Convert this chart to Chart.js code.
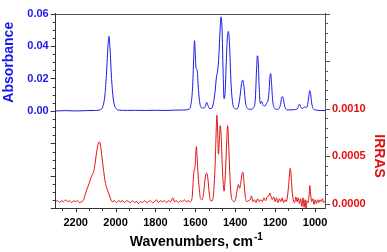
<!DOCTYPE html>
<html>
<head>
<meta charset="utf-8">
<script src="https://cdn.jsdelivr.net/npm/chart.js@4/dist/chart.umd.min.js"></script>
<style>
  html, body { margin: 0; padding: 0; background: #fff; }
</style>
</head>
<body>
<canvas id="irChart" width="387" height="252"></canvas>
<script>
// absorbance spectrum (top, left axis)
const absWavenumbers = [
  2300, 2250, 2200, 2150, 2100, 2075, 2063, 2053, 2045, 2038,
  2033, 2028, 2020, 2012, 2004, 1995, 1980, 1940, 1900, 1850,
  1800, 1750, 1700, 1660, 1632, 1622, 1614, 1608, 1604, 1600,
  1596, 1591, 1586, 1579, 1569, 1557, 1549, 1543, 1537, 1529,
  1519, 1509, 1501, 1494, 1488, 1482, 1476, 1471, 1466, 1461,
  1456, 1451, 1445, 1439, 1434, 1429, 1421, 1413, 1403, 1393,
  1384, 1376, 1368, 1362, 1356, 1348, 1338, 1322, 1308, 1299,
  1293, 1289, 1285, 1280, 1274, 1267, 1261, 1252, 1242, 1235,
  1230, 1226, 1222, 1218, 1212, 1204, 1192, 1181, 1173, 1167,
  1162, 1157, 1150, 1140, 1125, 1105, 1090, 1083, 1078, 1072,
  1065, 1058, 1053, 1047, 1039, 1032, 1027, 1023, 1017, 1009,
  997, 975, 950
];
const absValues = [
  0, 0.0002, 0, 0.0002, 0.0003, 0.0008, 0.003, 0.010, 0.024, 0.040,
  0.046, 0.039, 0.020, 0.008, 0.003, 0.0012, 0.0005, 0.0003, 0.0004, 0.0003,
  0.0004, 0.0003, 0.0005, 0.0006, 0.001, 0.004, 0.014, 0.033, 0.0433, 0.034,
  0.026, 0.0255, 0.016, 0.006, 0.002, 0.0018, 0.003, 0.0053, 0.0035, 0.0015,
  0.0015, 0.005, 0.012, 0.021, 0.025, 0.034, 0.050, 0.058, 0.050, 0.025,
  0.0075, 0.011, 0.030, 0.046, 0.049, 0.042, 0.017, 0.005, 0.0015, 0.0012,
  0.003, 0.009, 0.017, 0.019, 0.0145, 0.005, 0.0015, 0.001, 0.002, 0.008,
  0.026, 0.034, 0.031, 0.015, 0.0045, 0.0058, 0.0035, 0.003, 0.005, 0.0068,
  0.013, 0.021, 0.023, 0.017, 0.006, 0.002, 0.001, 0.0015, 0.004, 0.0085,
  0.0088, 0.006, 0.002, 0.0007, 0.0006, 0.0008, 0.0012, 0.0028, 0.0042, 0.0025,
  0.0015, 0.0018, 0.0026, 0.002, 0.003, 0.008, 0.0125, 0.0115, 0.005, 0.0015,
  0.0006, 0.0003, 0.0002
];

// IRRAS spectrum (bottom, right axis)
const irrasWavenumbers = [
  2300, 2290, 2280, 2270, 2260, 2250, 2240, 2230, 2220, 2210,
  2200, 2190, 2180, 2170, 2160, 2150, 2140, 2133, 2125, 2115,
  2108, 2102, 2097, 2090, 2085, 2081, 2077, 2072, 2067, 2060,
  2052, 2045, 2035, 2025, 2017, 2005, 1995, 1985, 1975, 1965,
  1955, 1945, 1935, 1925, 1915, 1905, 1895, 1885, 1875, 1865,
  1855, 1845, 1835, 1825, 1815, 1805, 1795, 1785, 1775, 1765,
  1755, 1745, 1735, 1725, 1712, 1705, 1695, 1685, 1675, 1665,
  1655, 1645, 1635, 1625, 1617, 1611, 1607, 1602, 1598, 1595,
  1591, 1586, 1580, 1574, 1566, 1558, 1550, 1543, 1537, 1530,
  1523, 1516, 1508, 1500, 1495, 1492, 1488, 1484, 1479, 1475,
  1470, 1465, 1460, 1456, 1451, 1446, 1441, 1438, 1434, 1428,
  1421, 1413, 1405, 1397, 1390, 1384, 1378, 1372, 1366, 1361,
  1356, 1350, 1342, 1333, 1325, 1318, 1312, 1304, 1296, 1288,
  1280, 1272, 1264, 1256, 1248, 1240, 1232, 1226, 1220, 1214,
  1207, 1200, 1193, 1186, 1179, 1172, 1165, 1158, 1151, 1144,
  1138, 1132, 1127, 1124, 1120, 1115, 1109, 1102, 1096, 1090,
  1084, 1078, 1072, 1066, 1060, 1055, 1050, 1045, 1040, 1035,
  1030, 1026, 1022, 1017, 1011, 1005, 999, 993, 987, 981,
  975, 969, 963, 957, 950
];
const irrasValues = [
  0.00002, 0.00003, 0.00001, 0.00003, 0.00002, 0.00004, 0.00002, 0.00003, 0.00001, 0.00003,
  0.00002, 0.00003, 0.00001, 0.00002, 0.00004, 0.00011, 0.00017, 0.00021, 0.00026, 0.00031,
  0.00035, 0.00043, 0.00051, 0.00060, 0.00064, 0.00065, 0.00063, 0.00056, 0.00047, 0.00035,
  0.00023, 0.00017, 0.00011, 0.00005, 0.00002, 0.00003, 0.00001, 0.00003, 0.00002, 0.00003,
  0.00001, 0.00003, 0.00002, 0.00001, 0.00003, 0.00001, 0.00002, 0.00000, 0.00002, 0.00001,
  0.00003, 0.00001, 0.00002, 0.00003, 0.00001, 0.00002, 0.00004, 0.00001, 0.00003, 0.00002,
  0.00003, 0.00001, 0.00003, 0.00002, 0.00006, 0.00002, 0.00003, 0.00001, 0.00003, 0.00002,
  0.00004, 0.00002, 0.00003, 0.00002, 0.00005, 0.00022, 0.00034, 0.00038, 0.00052, 0.00060,
  0.00048, 0.00030, 0.00015, 0.00005, 0.00004, 0.00012, 0.00028, 0.00032, 0.00026, 0.00010,
  0.00003, 0.00003, 0.00012, 0.00045, 0.00080, 0.00093, 0.00075, 0.00052, 0.00070, 0.00082,
  0.00068, 0.00040, 0.00020, 0.00013, 0.00025, 0.00048, 0.00074, 0.00082, 0.00068, 0.00035,
  0.00010, 0.00003, 0.00002, 0.00006, 0.00015, 0.00020, 0.00016, 0.00022, 0.00031, 0.00033,
  0.00022, 0.00008, 0.00002, 0.00003, 0.00004, 0.00008, 0.00002, 0.00004, 0.00001, 0.00005,
  0.00002, 0.00004, 0.00002, 0.00006, 0.00003, 0.00007, 0.00008, 0.00011, 0.00007, 0.00004,
  0.00007, 0.00002, 0.00006, 0.00001, 0.00005, 0.00002, 0.00006, 0.00001, 0.00004, 0.00002,
  0.00008, 0.00020, 0.00033, 0.00037, 0.00030, 0.00014, 0.00004, 0.00001, 0.00007, 0.00002,
  0.00006, 0.00000, 0.00005, -0.00003, 0.00006, -0.00004, 0.00004, -0.00005, 0.00003, 0.00001,
  0.00008, 0.00019, 0.00010, 0.00002, 0.00005, -0.00001, 0.00004, 0.00000, 0.00004, 0.00001,
  0.00004, 0.00002, 0.00005, 0.00001, 0.00003
];

// axes
const xTickLabels = [1000, 1200, 1400, 1600, 1800, 2000, 2200];
const absTickLabels = ['0.00', '0.02', '0.04', '0.06'];
const irrasTickLabels = ['0.0000', '0.0005', '0.0010'];

const FONT = 'Arial, "Liberation Sans", sans-serif';
const BLUE = '#1a1ae6';
const RED = '#e30f0f';
const AXIS = '#333333';

// major + minor tick positions (minor: 2 per 200 on x, 0.005 on left, 0.0001 on right)
const xTicks = [];
for (let k = 0; k < 20; k++) xTicks.push(1000 + k * 200 / 3);
const absTicks = [];
for (let k = -12; k <= 12; k++) absTicks.push(k * 0.005);
const irrasTicks = [];
for (let k = 0; k <= 20; k++) irrasTicks.push(k * 0.0001);

function near(a, b) { return Math.abs(a - b) < 1e-7; }
function isXMajor(v) { return xTickLabels.some(l => near(l, v)); }

const axisExtras = {
  id: 'axisExtras',
  afterDraw(chart) {
    const { ctx, chartArea: a } = chart;
    const { x, y, y2 } = chart.scales;
    ctx.save();
    ctx.lineWidth = 1;

    // tick marks, pointing outwards
    ctx.strokeStyle = AXIS;
    ctx.beginPath();
    x.ticks.forEach(t => {
      const px = Math.round(x.getPixelForValue(t.value)) + 0.5;
      const len = isXMajor(t.value) ? 4 : 2.5;
      ctx.moveTo(px, a.bottom);
      ctx.lineTo(px, a.bottom + len);
    });
    y.ticks.forEach(t => {
      const py = Math.round(y.getPixelForValue(t.value)) + 0.5;
      const major = near(t.value / 0.02, Math.round(t.value / 0.02));
      ctx.moveTo(a.left, py);
      ctx.lineTo(a.left - (major ? 5 : 3), py);
    });
    ctx.stroke();

    ctx.strokeStyle = '#555555';
    ctx.beginPath();
    y2.ticks.forEach(t => {
      const py = Math.round(y2.getPixelForValue(t.value)) + 0.5;
      const major = near(t.value / 0.0005, Math.round(t.value / 0.0005));
      ctx.moveTo(a.right, py);
      ctx.lineTo(a.right + (major ? 5 : 3), py);
    });
    // top frame line
    ctx.moveTo(a.left, Math.round(a.top) + 0.5);
    ctx.lineTo(a.right, Math.round(a.top) + 0.5);
    ctx.stroke();

    // axis titles
    ctx.font = 'bold 14px ' + FONT;
    ctx.textAlign = 'center';
    ctx.textBaseline = 'middle';

    ctx.save();
    ctx.fillStyle = BLUE;
    ctx.translate(9, (y.getPixelForValue(0) + y.getPixelForValue(0.06)) / 2);
    ctx.rotate(-Math.PI / 2);
    ctx.fillText('Absorbance', 0, 0);
    ctx.restore();

    ctx.save();
    ctx.fillStyle = RED;
    ctx.translate(379, (y2.getPixelForValue(0) + y2.getPixelForValue(0.001)) / 2);
    ctx.rotate(Math.PI / 2);
    ctx.fillText('IRRAS', 0, 0);
    ctx.restore();

    // x title with superscript
    ctx.fillStyle = '#000';
    ctx.textAlign = 'left';
    ctx.textBaseline = 'alphabetic';
    const main = 'Wavenumbers, cm';
    const wMain = ctx.measureText(main).width;
    ctx.font = 'bold 10px ' + FONT;
    const wSup = ctx.measureText('-1').width;
    const startX = (a.left + a.right) / 2 + 6 - (wMain + 1 + wSup) / 2;
    ctx.fillText('-1', startX + wMain + 1, 240);
    ctx.font = 'bold 14px ' + FONT;
    ctx.fillText(main, startX, 246);

    ctx.restore();
  }
};

const tickFont = { family: FONT, size: 11, weight: 'bold' };

new Chart(document.getElementById('irChart'), {
  type: 'line',
  data: {
    datasets: [
      {
        label: 'Absorbance',
        data: absWavenumbers.map((w, i) => ({ x: w, y: absValues[i] })),
        yAxisID: 'y',
        borderColor: BLUE,
        borderWidth: 1,
      },
      {
        label: 'IRRAS',
        data: irrasWavenumbers.map((w, i) => ({ x: w, y: irrasValues[i] })),
        yAxisID: 'y2',
        borderColor: RED,
        borderWidth: 1,
      },
    ],
  },
  options: {
    responsive: false,
    animation: false,
    events: [],
    layout: { padding: { top: 7.3, left: 0, right: 0, bottom: 0 } },
    elements: {
      point: { radius: 0 },
      line: { cubicInterpolationMode: 'monotone' },
    },
    plugins: {
      legend: { display: false },
      tooltip: { enabled: false },
    },
    scales: {
      x: {
        type: 'linear',
        position: 'bottom',
        reverse: true,
        min: 950,
        max: 2300,
        afterBuildTicks: s => { s.ticks = xTicks.map(v => ({ value: v })); },
        afterFit: s => { s.height = 43.7; },
        ticks: {
          autoSkip: false,
          maxRotation: 0,
          padding: 8,
          color: '#000',
          font: tickFont,
          callback: v => (isXMajor(v) ? String(Math.round(v)) : ''),
        },
        grid: { drawOnChartArea: false, drawTicks: false },
        border: { color: AXIS, width: 1 },
      },
      y: {
        type: 'linear',
        position: 'left',
        min: -0.06,
        max: 0.06,
        afterBuildTicks: s => { s.ticks = absTicks.map(v => ({ value: v })); },
        afterFit: s => { s.width = 55.7; },
        ticks: {
          autoSkip: false,
          padding: 7,
          color: BLUE,
          font: tickFont,
          callback: v => absTickLabels.find(l => near(parseFloat(l), v)) || '',
        },
        grid: { drawOnChartArea: false, drawTicks: false },
        border: { color: AXIS, width: 1 },
      },
      y2: {
        type: 'linear',
        position: 'right',
        min: -0.00005,
        max: 0.0020,
        afterBuildTicks: s => { s.ticks = irrasTicks.map(v => ({ value: v })); },
        afterFit: s => { s.width = 62; },
        ticks: {
          autoSkip: false,
          padding: 7,
          color: RED,
          font: tickFont,
          callback: v => irrasTickLabels.find(l => near(parseFloat(l), v)) || '',
        },
        grid: { drawOnChartArea: false, drawTicks: false },
        border: { color: '#555555', width: 1 },
      },
    },
  },
  plugins: [axisExtras],
});
</script>
</body>
</html>
